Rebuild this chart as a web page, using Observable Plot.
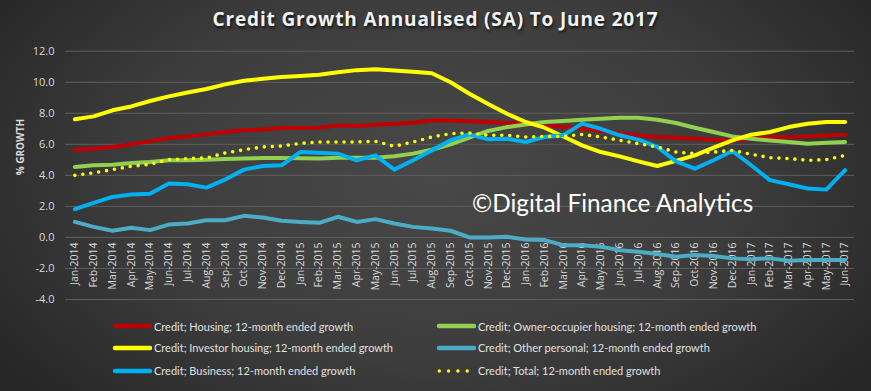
<!DOCTYPE html>
<html><head><meta charset="utf-8">
<script src="https://cdn.jsdelivr.net/npm/d3@7"></script>
<script src="https://cdn.jsdelivr.net/npm/@observablehq/plot@0.6"></script>
<style>
html,body{margin:0;padding:0;background:#333;}
#root{position:relative;width:871px;height:391px;overflow:hidden;
 background:radial-gradient(ellipse 62% 85% at 50% 45%, #484848 0%, #3d3d3d 55%, #262626 100%);
 font-family:"Open Sans",sans-serif;}
#title{position:absolute;top:6px;left:0;width:871px;text-align:center;color:#f2f2f2;
 font:bold 19px "Open Sans",sans-serif;letter-spacing:0.85px;text-shadow:1px 2px 3px #111;}
#chart{position:absolute;top:0;left:0;}
#wm{position:absolute;left:472px;top:188px;color:#fff;font:24.3px Lato,sans-serif;white-space:nowrap;}
.leg{position:absolute;display:flex;align-items:center;white-space:nowrap;color:#e0e0e0;
 font:11px Lato,sans-serif;}
.leg svg{margin-right:2px;}
</style></head>
<body><div id="root">
<div id="chart"></div>
<div id="title">Credit Growth Annualised (SA) To June 2017</div>
<div id="wm">©Digital Finance Analytics</div>
</div>
<script>
const months = ["Jan-2014","Feb-2014","Mar-2014","Apr-2014","May-2014","Jun-2014","Jul-2014","Aug-2014","Sep-2014","Oct-2014","Nov-2014","Dec-2014",
"Jan-2015","Feb-2015","Mar-2015","Apr-2015","May-2015","Jun-2015","Jul-2015","Aug-2015","Sep-2015","Oct-2015","Nov-2015","Dec-2015",
"Jan-2016","Feb-2016","Mar-2016","Apr-2016","May-2016","Jun-2016","Jul-2016","Aug-2016","Sep-2016","Oct-2016","Nov-2016","Dec-2016",
"Jan-2017","Feb-2017","Mar-2017","Apr-2017","May-2017","Jun-2017"];
const yTicks = [-4, -2, 0, 2, 4, 6, 8, 10, 12];
const housing = [5.65,5.72,5.83,6.0,6.19,6.41,6.51,6.64,6.79,6.9,6.96,7.05,7.05,7.07,7.22,7.18,7.26,7.33,7.39,7.54,7.54,7.48,7.44,7.37,7.33,7.22,7.11,7.0,6.85,6.72,6.58,6.47,6.42,6.36,6.3,6.25,6.36,6.47,6.47,6.51,6.58,6.62];
const ownerOccupier = [4.54,4.65,4.69,4.8,4.86,4.97,4.97,5.01,5.06,5.08,5.12,5.12,5.1,5.08,5.14,5.14,5.14,5.23,5.4,5.65,6.0,6.43,6.86,7.11,7.28,7.44,7.5,7.58,7.65,7.71,7.71,7.58,7.37,7.07,6.79,6.51,6.36,6.25,6.15,6.04,6.1,6.15];
const investor = [7.61,7.8,8.19,8.44,8.79,9.09,9.34,9.56,9.86,10.1,10.22,10.33,10.4,10.48,10.65,10.78,10.84,10.76,10.67,10.58,10.0,9.26,8.6,7.97,7.44,7.07,6.5,5.93,5.5,5.22,4.9,4.6,4.93,5.29,5.78,6.25,6.62,6.79,7.11,7.33,7.44,7.44];
const otherPersonal = [1.0,0.68,0.43,0.62,0.47,0.83,0.9,1.11,1.11,1.39,1.28,1.07,1.0,0.94,1.33,1.0,1.18,0.9,0.68,0.58,0.43,0.0,0.0,0.04,-0.13,-0.17,-0.5,-0.5,-0.6,-0.82,-0.92,-1.07,-1.25,-1.14,-1.2,-1.35,-1.4,-1.35,-1.5,-1.46,-1.46,-1.46];
const business = [1.82,2.22,2.61,2.76,2.82,3.47,3.43,3.21,3.73,4.37,4.6,4.65,5.5,5.46,5.4,4.97,5.29,4.37,4.97,5.61,6.26,6.64,6.32,6.36,6.15,6.47,6.58,7.33,7.0,6.58,6.3,5.83,4.9,4.43,4.97,5.57,4.65,3.69,3.43,3.15,3.08,4.33];
const total = [4.0,4.16,4.37,4.58,4.71,5.01,5.08,5.12,5.44,5.65,5.83,5.89,6.06,6.15,6.15,6.15,6.19,5.87,6.15,6.47,6.69,6.73,6.58,6.58,6.47,6.51,6.51,6.64,6.47,6.26,6.04,5.83,5.5,5.4,5.5,5.61,5.36,5.14,5.08,4.97,5.01,5.29];

const seriesNames = ["Credit; Housing; 12-month ended growth","Credit; Owner-occupier housing; 12-month ended growth","Credit; Investor housing; 12-month ended growth","Credit; Other personal; 12-month ended growth","Credit; Business; 12-month ended growth","Credit; Total; 12-month ended growth"];
const seriesValues = [housing, ownerOccupier, investor, otherPersonal, business, total];
const seriesColors = ["#c00000","#92d050","#ffff00","#4bacc6","#00b0f0","#ffff00"];
const seriesDotted = [false,false,false,false,false,true];

const series = seriesNames.map((name, k) => ({name, color: seriesColors[k], dotted: seriesDotted[k],
  data: months.map((m, i) => ({month: m, value: seriesValues[k][i]}))}));

const marks = [
  Plot.ruleY(yTicks, {stroke: "#5f5f5f", strokeWidth: 1}),
  Plot.axisY({ticks: yTicks, tickFormat: d => d.toFixed(1), tickSize: 0, tickPadding: 11, fontSize: 11, color: "#d9d9d9", label: null}),
  Plot.text(["% GROWTH"], {frameAnchor: "left", text: d => d, rotate: -90, dx: -45, fontSize: 10, fontWeight: "bold", fill: "#d9d9d9"}),
  Plot.text(months, {x: d => d, y: 0, text: d => d, rotate: -90, textAnchor: "end", dy: 5, fontSize: 10.5, fill: "#d9d9d9"})
];
for (const s of series) {
  marks.push(Plot.line(s.data, {x: "month", y: "value", stroke: s.color,
    strokeWidth: s.dotted ? 3.6 : 4, strokeLinecap: "round", strokeLinejoin: "round",
    strokeDasharray: s.dotted ? "0 8" : null}));
}

const chart = Plot.plot({
  width: 871, height: 310,
  marginTop: 50.7, marginBottom: 11, marginLeft: 65, marginRight: 17,
  style: {background: "transparent", fontFamily: "'Open Sans', sans-serif"},
  x: {type: "point", domain: months, padding: 0.5, axis: null},
  y: {domain: [-4, 12], axis: null},
  marks
});
document.getElementById("chart").appendChild(chart);

// legend
const root = document.getElementById("root");
const legPos = [[112, 326], [436, 326], [112, 347.5], [436, 347.5], [112, 370.5], [436, 370.5]];
series.forEach((s, k) => {
  const div = document.createElement("div");
  div.className = "leg";
  div.style.left = legPos[k][0] + "px";
  div.style.top = (legPos[k][1] - 8) + "px";
  div.style.height = "16px";
  const sw = s.dotted
    ? `<svg width="40" height="8"><line x1="-6" y1="4" x2="38" y2="4" stroke="${s.color}" stroke-width="3.4" stroke-linecap="round" stroke-dasharray="0 9.3"/></svg>`
    : `<svg width="40" height="8"><line x1="3" y1="4" x2="38" y2="4" stroke="${s.color}" stroke-width="4.5" stroke-linecap="round"/></svg>`;
  div.innerHTML = sw + `<span>${s.name}</span>`;
  root.appendChild(div);
});
</script>
</body></html>
